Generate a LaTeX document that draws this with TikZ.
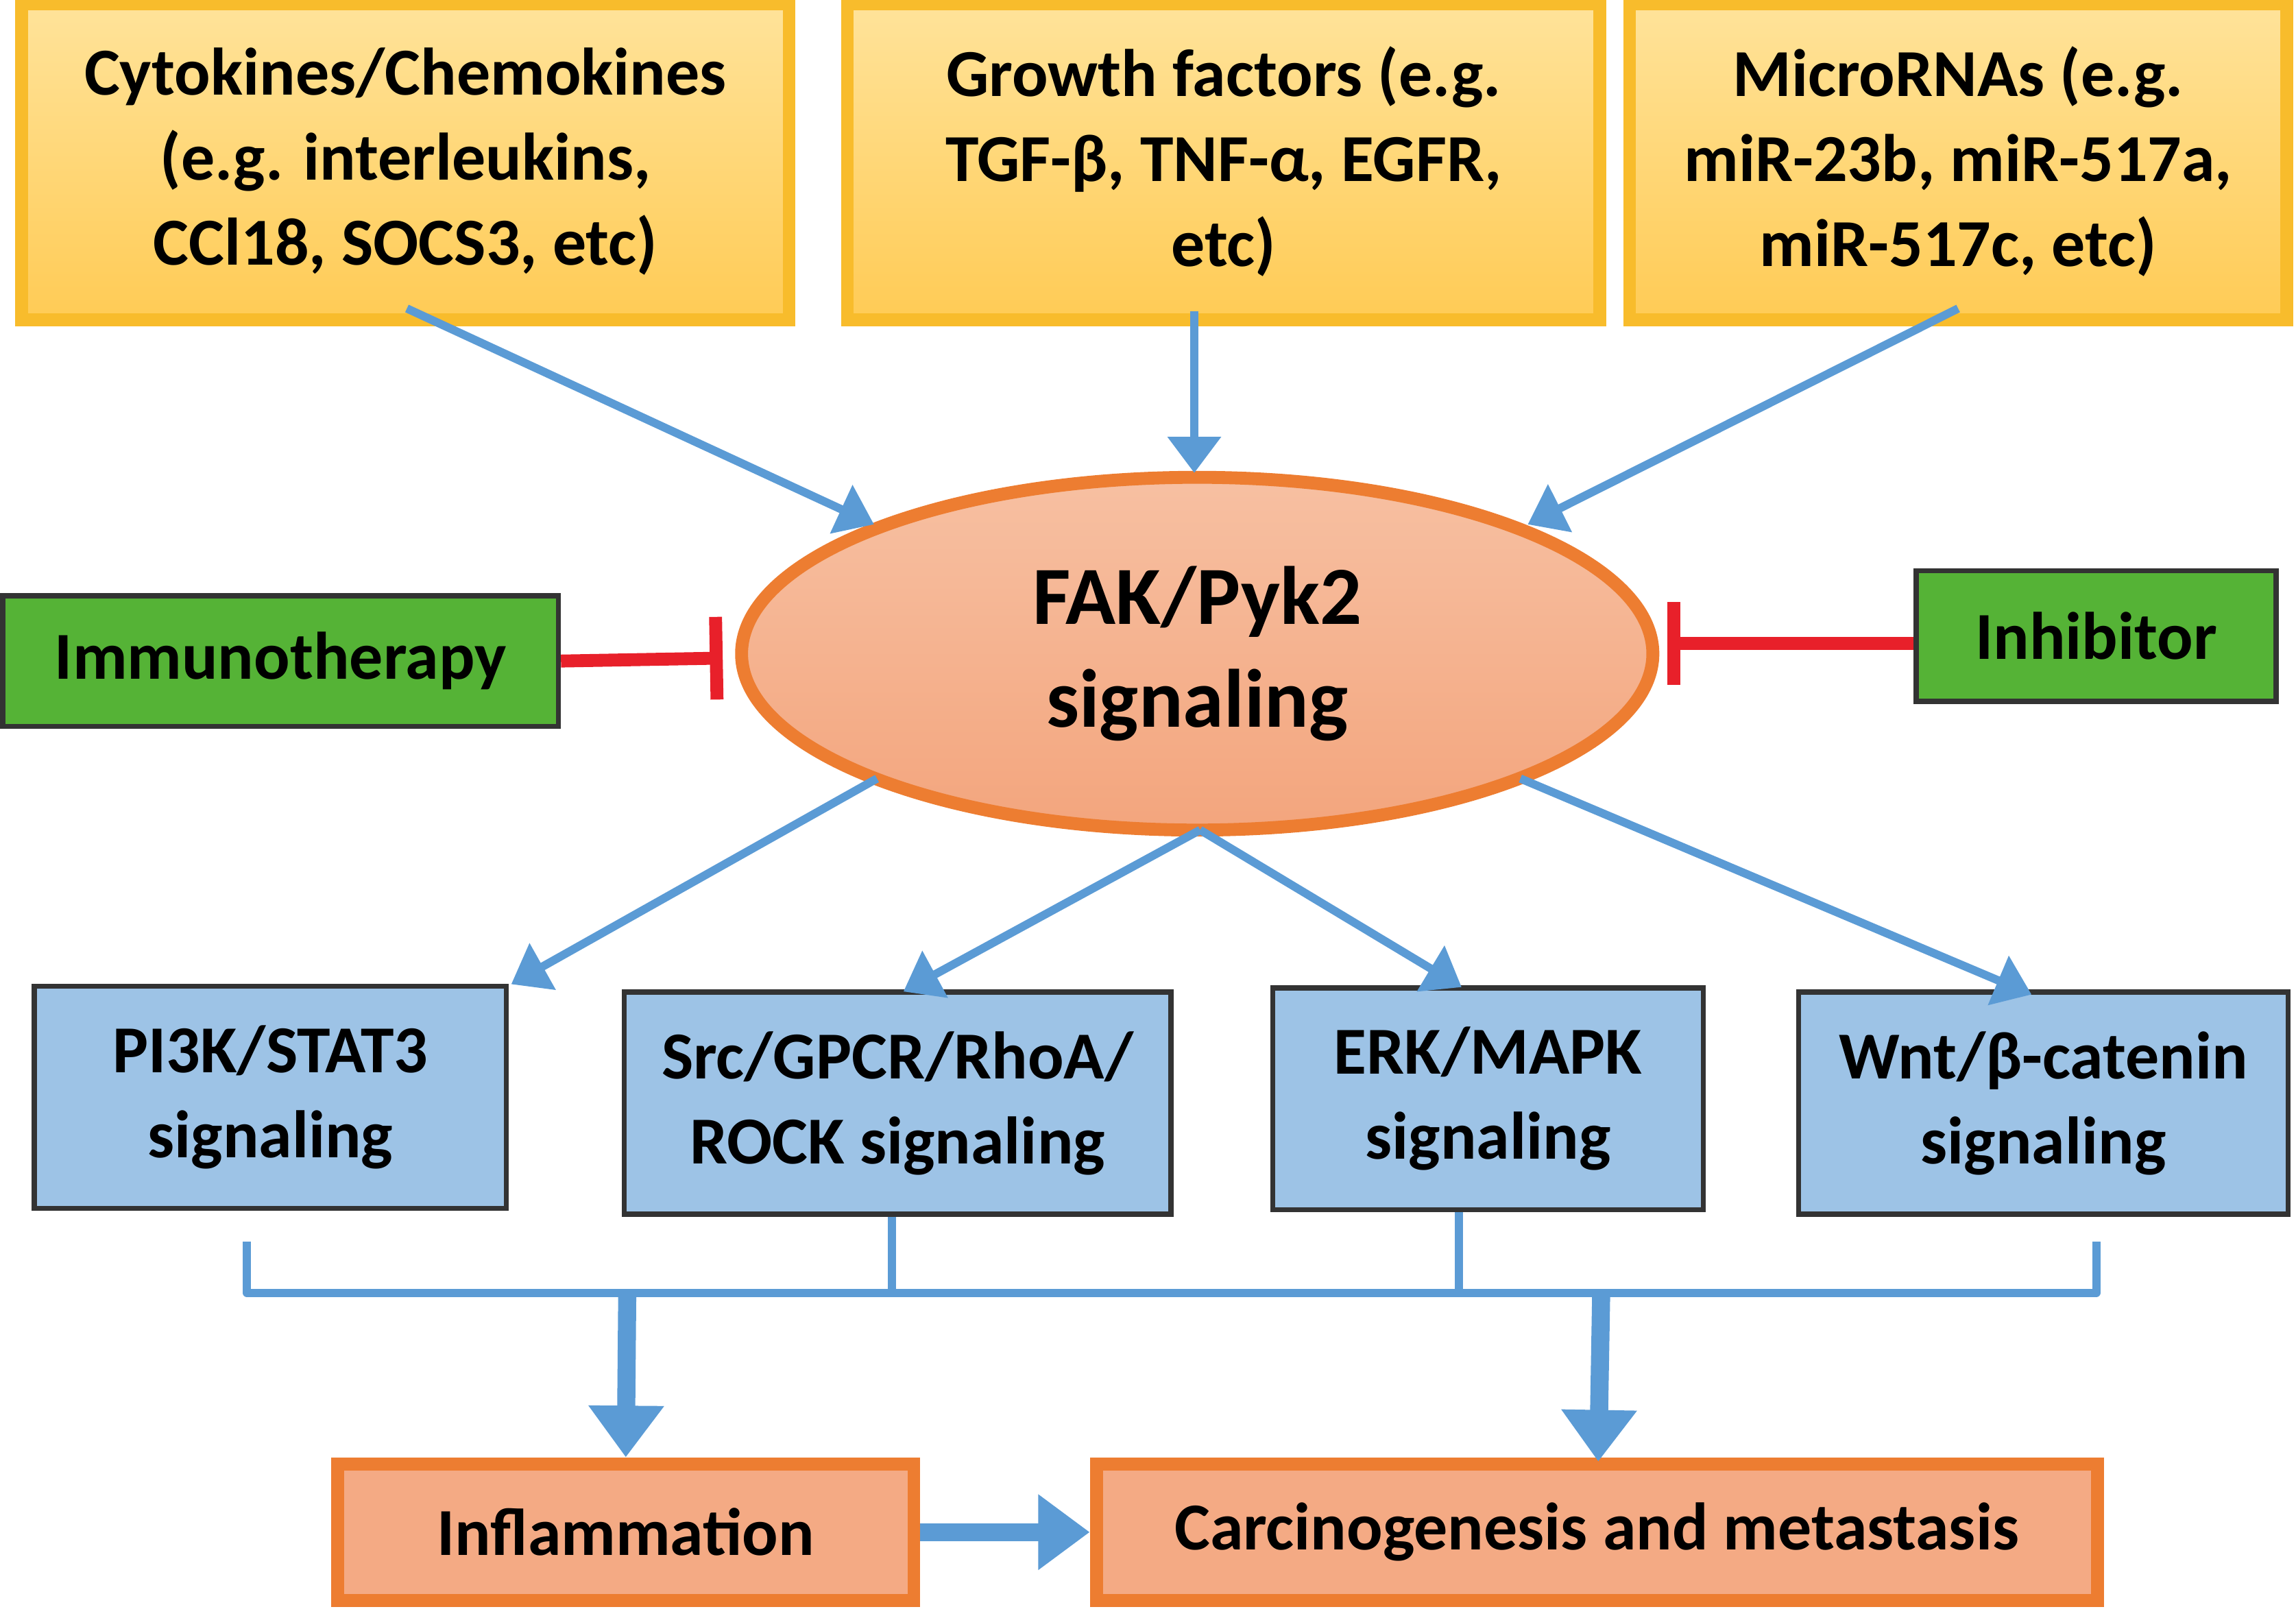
\documentclass[tikz,border=0pt]{standalone}
\usepackage{fontspec}
\setmainfont{Carlito}
\usetikzlibrary{arrows.meta,shapes.geometric}
\definecolor{ybord}{HTML}{F8BC2C}
\definecolor{ytop}{HTML}{FFE39A}
\definecolor{ybot}{HTML}{FFCB55}
\definecolor{obord}{HTML}{ED7D31}
\definecolor{otop}{HTML}{F7C0A2}
\definecolor{obot}{HTML}{F3A57D}
\definecolor{gfill}{HTML}{55B336}
\definecolor{bfill}{HTML}{9DC3E6}
\definecolor{arr}{HTML}{5B9BD5}
\definecolor{inh}{HTML}{E8202A}
\tikzset{
 fnt/.style={font=\bfseries\fontsize{13}{16.5}\selectfont},
 ybox/.style={draw=ybord,line width=2.5pt,top color=ytop,bottom color=ybot,align=center,fnt,inner sep=2pt},
 gbox/.style={draw=black!80,line width=1pt,fill=gfill,fnt,inner sep=2pt},
 bbox/.style={draw=black!80,line width=1pt,fill=bfill,align=center,fnt,inner sep=2pt},
 obox/.style={draw=obord,line width=2.5pt,fill=obot!80!otop,fnt,inner sep=2pt},
 ar/.style={draw=arr,line width=1.6pt,-{Triangle[length=7pt,width=10pt]}},
 tar/.style={draw=arr,line width=3.5pt,-{Triangle[length=10pt,width=14pt]}},
 ln/.style={draw=arr,line width=1.6pt},
 bar/.style={draw=inh,line width=2.5pt,-{Bar[width=16pt,line width=2.5pt]}},
}
\begin{document}
\begin{tikzpicture}[x=0.01cm,y=-0.01cm]
\useasboundingbox (0,0) rectangle (1563,1101);
\node[ybox,minimum width=5.22cm,minimum height=2.15cm] (c) at (276,110) {Cytokines/Chemokines\\(e.g. interleukins,\\CCl18, SOCS3, etc)};
\node[ybox,minimum width=5.12cm,minimum height=2.15cm] (g) at (833,110) {Growth factors (e.g.\\TGF-β, TNF-α, EGFR,\\etc)};
\node[ybox,minimum width=4.47cm,minimum height=2.15cm] (m) at (1333,110) {MicroRNAs (e.g.\\miR-23b, miR-517a,\\miR-517c, etc)};
\node[ellipse,draw=obord,line width=2.5pt,top color=otop,bottom color=obot,minimum width=6.2cm,minimum height=2.4cm,align=center,font=\bfseries\fontsize{16}{20}\selectfont] (f) at (815,445) {FAK/Pyk2\\signaling};
\node[gbox,minimum width=3.78cm,minimum height=0.89cm] (im) at (191,450) {Immunotherapy};
\node[gbox,minimum width=2.45cm,minimum height=0.89cm] (in) at (1427,433) {Inhibitor};
\node[bbox,minimum width=3.21cm,minimum height=1.51cm] (p) at (184,747) {PI3K/STAT3\\signaling};
\node[bbox,minimum width=3.72cm,minimum height=1.51cm] (s) at (611,751) {Src/GPCR/RhoA/\\ROCK signaling};
\node[bbox,minimum width=2.93cm,minimum height=1.51cm] (e) at (1013,748) {ERK/MAPK\\signaling};
\node[bbox,minimum width=3.33cm,minimum height=1.51cm] (w) at (1391,751) {Wnt/β-catenin\\signaling};
\node[obox,minimum width=3.92cm,minimum height=0.93cm] (i) at (426,1043) {Inflammation};
\node[obox,minimum width=6.81cm,minimum height=0.93cm] (k) at (1087,1043) {Carcinogenesis and metastasis};
% inputs
\coordinate (c1) at (277,210); \coordinate (f1) at (595,357);
\coordinate (g1) at (813,212); \coordinate (f2) at (813,322);
\coordinate (m1) at (1333,210); \coordinate (f3) at (1040,357);
\draw[ar] (c1) -- (f1);
\draw[ar] (g1) -- (f2);
\draw[ar] (m1) -- (f3);
% inhibitors
\coordinate (b1) at (492,448); \coordinate (b2) at (1135,438);
\draw[bar] (im.east) -- (b1);
\draw[bar] (in.west |- b2) -- (b2);
% outputs
\coordinate (o1) at (597,530); \coordinate (o2) at (817,565); \coordinate (o3) at (1035,530);
\coordinate (t1) at (348,670); \coordinate (t2) at (615,675); \coordinate (t3) at (995,672); \coordinate (t4) at (1383,677);
\draw[ar] (o1) -- (t1);
\draw[ar] (o2) -- (t2);
\draw[ar] (o2) -- (t3);
\draw[ar] (o3) -- (t4);
% bracket
\coordinate (l) at (168,845); \coordinate (r) at (1427,845);
\draw[ln,line join=round] (l) -- (168,880) -- (1427,880) -- (r);
\draw[ln] (s.south -| 607,0) -- (607,880);
\draw[ln] (e.south -| 993,0) -- (993,880);
\coordinate (a1) at (427,880); \coordinate (a2) at (1090,880);
\draw[tar] (a1) -- (i.north);
\draw[tar] (a2) -- (1088,995);
\draw[tar] (i.east) -- (k.west);
\end{tikzpicture}
\end{document}
